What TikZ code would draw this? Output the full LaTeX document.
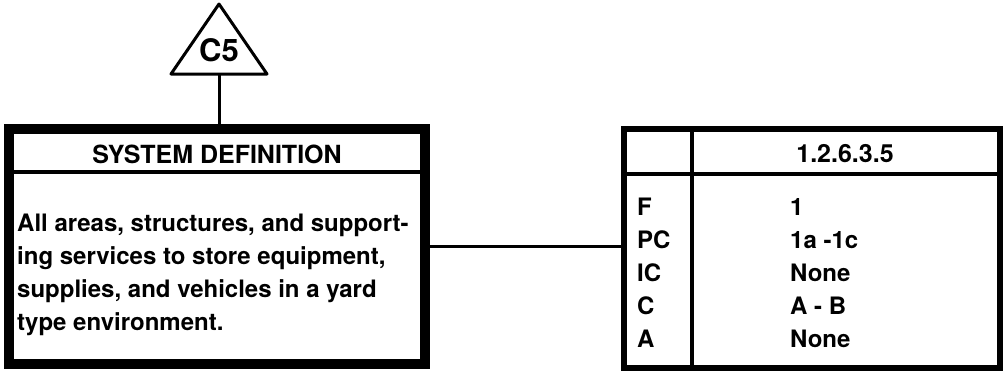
\documentclass[tikz,border=0pt]{standalone}
\usepackage{fontspec}
\setmainfont{TeX Gyre Heros}
\usetikzlibrary{positioning,calc}
\tikzset{
  defbox/.style={rectangle, draw=black, line width=10pt, minimum width=416pt, minimum height=235pt, inner sep=0pt},
  refbox/.style={rectangle, draw=black, line width=6pt, minimum width=376pt, minimum height=239pt, inner sep=0pt},
  dreieck/.style={draw=black, line width=3pt, line join=round},
  kante/.style={draw=black, line width=3pt},
  trenn/.style={draw=black, line width=3.5pt},
  kopf/.style={font=\fontsize{25}{25}\selectfont\bfseries, inner sep=0pt},
  c5text/.style={font=\fontsize{31}{31}\selectfont\bfseries, inner sep=0pt},
  rumpf/.style={font=\fontsize{24}{33}\selectfont\bfseries, align=left, inner sep=0pt, anchor=north west}
}

\begin{document}
\begin{tikzpicture}[x=1pt,y=-1pt]
\useasboundingbox (0,0) rectangle (1004,372);

\coordinate (c5-spitze) at (219,4);
\coordinate (c5-rechts) at (267,74);
\coordinate (c5-links) at (171,74);
\coordinate (c5-basis) at ($(c5-links)!0.5!(c5-rechts)$);
\draw[dreieck] (c5-spitze) -- (c5-rechts) -- (c5-links) -- cycle;
\node[c5text] (c5) at (219,50) {C5};

\node[defbox] (sysdef) at (217,246.5) {};
\draw[trenn] ([yshift=-48pt]sysdef.north west) -- ([yshift=-48pt]sysdef.north east);
\node[kopf] (sysdef-titel) at (217,154) {SYSTEM DEFINITION};
\node[rumpf] (sysdef-text) at (17,214) {All areas, structures, and support-\\ing services to store equipment,\\supplies, and vehicles in a yard\\type environment.};
\draw[kante] (c5-basis) -- (c5-basis |- sysdef.north);

\node[refbox] (ref) at (812,248.5) {};
\draw[trenn] ([yshift=-48pt]ref.north west) -- ([yshift=-48pt]ref.north east);
\draw[trenn] ([xshift=71pt]ref.north west) -- ([xshift=71pt]ref.south west);
\node[kopf] (ref-nr) at (845,154) {1.2.6.3.5};
\node[rumpf] (ref-keys) at (637,198) {F\\PC\\IC\\C\\A};
\node[rumpf] (ref-werte) at (790,198) {1\\1a -1c\\None\\A - B\\None};

\draw[kante] (sysdef.east) -- (sysdef.east -| ref.west);

\end{tikzpicture}
\end{document}
